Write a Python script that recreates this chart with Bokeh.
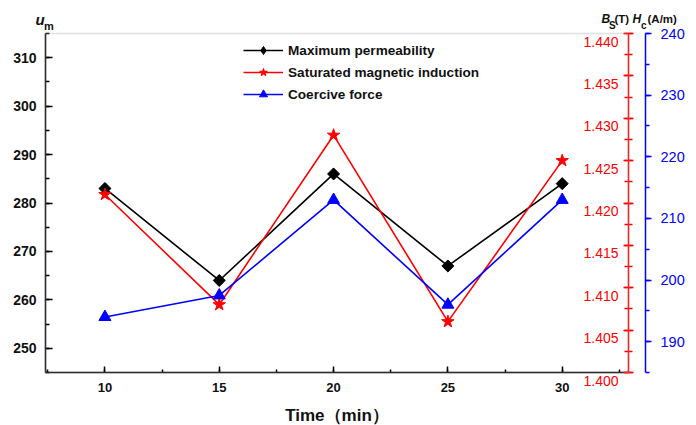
import math
from bokeh.plotting import figure
from bokeh.models import (Range1d, LinearAxis, SingleIntervalTicker, PrintfTickFormatter,
                          Legend, LegendItem, Label, BoxAnnotation)
from bokeh.embed import file_html
from bokeh.resources import INLINE

# Annealing time (min) and the three measured properties
time_min = [10, 15, 20, 25, 30]
max_permeability = [283, 264, 286, 267, 284]          # u_m
sat_induction = [1.421, 1.408, 1.428, 1.406, 1.425]   # B_s (T)
coercive_force = [194, 197.5, 213, 196, 213]          # H_c (A/m)

# axis extents
T_LO, T_HI = 7.4, 32.9
UM_LO, UM_HI = 245, 315
BS_LO, BS_HI = 1.400, 1.440
HC_LO, HC_HI = 185, 240

# page geometry (px): the plotting box, the offset of the second right axis,
# and how far the B_s tick labels hang below their ticks
W, H = 696, 425
BOX_L, BOX_R, BOX_T, BOX_B = 45, 628, 33, 372
HC_AXIS_X = 645
BS_LABEL_DROP = 8

FONT = "Liberation Sans"


def x_span(lo, hi):
    per = (hi - lo) / (BOX_R - BOX_L)
    return Range1d(lo - BOX_L * per, hi + (W - BOX_R) * per)


def y_span(lo, hi, drop=0):
    per = (hi - lo) / (BOX_B - BOX_T)
    return Range1d(lo - (H - BOX_B) * per + drop * per, hi + BOX_T * per + drop * per)


x_rng = x_span(T_LO, T_HI)
hc_axis_at = T_HI + (HC_AXIS_X - BOX_R) * (T_HI - T_LO) / (BOX_R - BOX_L)

p = figure(width=W, height=H, output_backend="svg", toolbar_location=None,
           x_range=x_rng, y_range=y_span(UM_LO, UM_HI), min_border=0)
p.xgrid.visible = False
p.ygrid.visible = False
p.outline_line_color = None
p.xaxis.visible = False
p.yaxis.visible = False

p.extra_y_ranges = {"bs": y_span(BS_LO, BS_HI),
                    "bs_labels": y_span(BS_LO, BS_HI, BS_LABEL_DROP),
                    "hc": y_span(HC_LO, HC_HI)}

# box edge (grey on top, the axes cover the other sides)
p.add_layout(BoxAnnotation(left=T_LO, right=T_HI, bottom=UM_LO, top=UM_HI,
                           fill_alpha=0, line_color="#9a9a9a", line_width=1.5))


def style_axis(ax, color, t_in, t_out, m_in, m_out, size, weight):
    ax.axis_line_color = color
    ax.axis_line_width = 1.5
    ax.major_tick_line_color = color
    ax.minor_tick_line_color = color
    ax.major_tick_line_width = 1.5
    ax.minor_tick_line_width = 1.5
    ax.major_tick_in, ax.major_tick_out = t_in, t_out
    ax.minor_tick_in, ax.minor_tick_out = m_in, m_out
    ax.major_label_text_color = color if color != "black" else "#111111"
    ax.major_label_text_font = FONT
    ax.major_label_text_font_size = size
    ax.major_label_text_font_style = weight


# left axis (u_m)
um_axis = LinearAxis(fixed_location=T_LO, bounds=(UM_LO, UM_HI),
                     ticker=SingleIntervalTicker(interval=10, num_minor_ticks=2))
style_axis(um_axis, "black", 7, 0, 4, 0, "14px", "bold")
um_axis.major_label_standoff = 9
p.add_layout(um_axis, "left")

# bottom axis (time)
t_axis = LinearAxis(fixed_location=UM_LO, bounds=(T_LO, T_HI),
                    ticker=SingleIntervalTicker(interval=5, num_minor_ticks=2))
style_axis(t_axis, "black", 6, 0, 3, 0, "13px", "bold")
t_axis.major_label_standoff = 10
t_axis.axis_label = "Time（min）"
t_axis.axis_label_text_font = FONT
t_axis.axis_label_text_font_style = "bold"
t_axis.axis_label_text_font_size = "17px"
t_axis.axis_label_text_color = "#111111"
t_axis.axis_label_standoff = 11
p.add_layout(t_axis, "below")

# right axis for B_s (red): line and ticks
bs_axis = LinearAxis(y_range_name="bs", fixed_location=T_HI, bounds=(BS_LO, BS_HI),
                     ticker=SingleIntervalTicker(interval=0.005, num_minor_ticks=2),
                     formatter=PrintfTickFormatter(format=""))
style_axis(bs_axis, "red", 5, 5, 4, 4, "14px", "normal")
p.add_layout(bs_axis, "right")

# B_s tick labels: inside the box, hanging just under their ticks
bs_labels = LinearAxis(y_range_name="bs_labels", fixed_location=T_HI, bounds=(BS_LO, BS_HI),
                       ticker=SingleIntervalTicker(interval=0.005, num_minor_ticks=0),
                       formatter=PrintfTickFormatter(format="%.3f"))
style_axis(bs_labels, "red", 5, 5, 0, 0, "14px", "normal")
bs_labels.axis_line_color = None
bs_labels.major_tick_line_color = None
bs_labels.minor_tick_line_color = None
bs_labels.major_label_standoff = -50
p.add_layout(bs_labels, "right")

# right axis for H_c (blue)
hc_axis = LinearAxis(y_range_name="hc", fixed_location=hc_axis_at, bounds=(HC_LO, HC_HI),
                     ticker=SingleIntervalTicker(interval=10, num_minor_ticks=2))
style_axis(hc_axis, "blue", 0, 6, 0, 4, "14.5px", "normal")
hc_axis.major_label_standoff = 9
p.add_layout(hc_axis, "right")

# series
l1 = p.line(time_min, max_permeability, line_color="black", line_width=1.6)
# the diamond key sits under the rotated squares and only shapes the legend entry
k1 = p.scatter(time_min, max_permeability, marker="diamond", size=10,
               fill_color="black", line_color="black")
s1 = p.scatter(time_min, max_permeability, marker="square", size=8.5, angle=math.pi / 4,
               fill_color="black", line_color="black")
l2 = p.line(time_min, sat_induction, line_color="red", line_width=1.6, y_range_name="bs")
s2 = p.scatter(time_min, sat_induction, marker="star", size=13, fill_color="red",
               line_color="red", y_range_name="bs")
l3 = p.line(time_min, coercive_force, line_color="blue", line_width=1.6, y_range_name="hc")
s3 = p.scatter(time_min, coercive_force, marker="triangle", size=12, fill_color="blue",
               line_color="blue", y_range_name="hc")

legend = Legend(items=[LegendItem(label="Maximum permeability", renderers=[l1, k1]),
                       LegendItem(label="Saturated magnetic induction", renderers=[l2, s2]),
                       LegendItem(label="Coercive force", renderers=[l3, s3])],
                location=(243, H - 104), orientation="vertical",
                border_line_color=None, background_fill_alpha=0,
                padding=0, margin=0, spacing=2,
                glyph_width=40, glyph_height=20, label_height=20, label_standoff=5,
                label_text_font=FONT, label_text_font_style="bold",
                label_text_font_size="13.6px", label_text_color="#111111")
p.add_layout(legend)


# axis titles drawn horizontally above the box (x from left, baseline from top)
def add_text(x, base, text, size, style="bold"):
    p.add_layout(Label(x=x, y=H - base, x_units="screen", y_units="screen", text=text,
                       text_font=FONT, text_font_size=size, text_font_style=style,
                       text_color="#111111", text_baseline="alphabetic"))


add_text(35, 19, "u", "15px", "bold italic")
add_text(43.5, 25, "m", "11px")
add_text(601, 18.5, "B", "12px", "bold italic")
add_text(608.5, 24.5, "S", "10px")
add_text(614, 18.5, "(T)", "11.5px")
add_text(632, 18.5, "H", "12px", "bold italic")
add_text(640.5, 24.5, "c", "10px")
add_text(647, 18.5, "(A/m)", "11.5px")

open("out.html", "w").write(file_html(p, INLINE))
